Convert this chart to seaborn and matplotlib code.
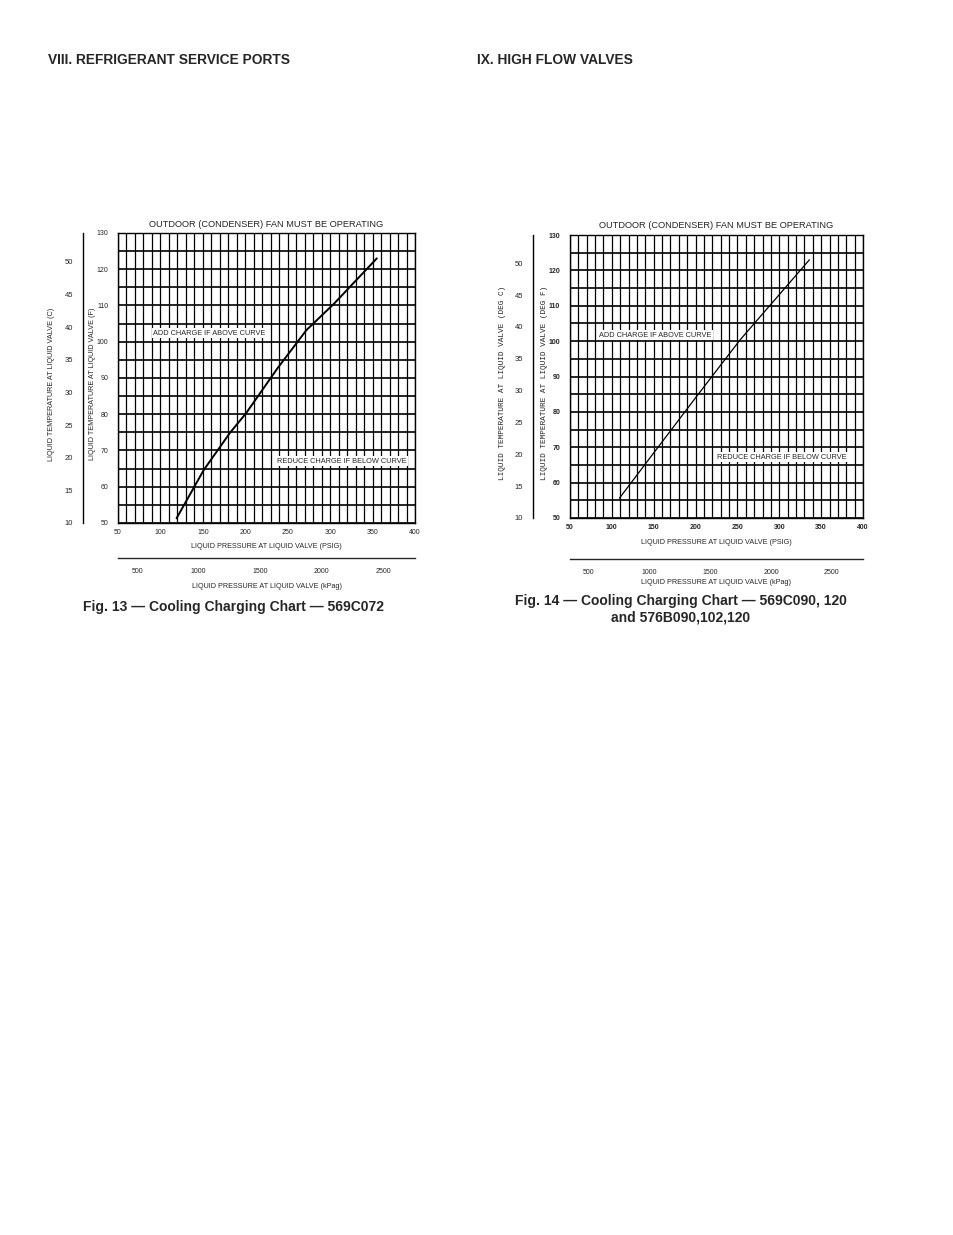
import numpy as np
import pandas as pd
import matplotlib
matplotlib.use("Agg")
import matplotlib.pyplot as plt
import seaborn as sns

# ---------------- data ----------------
left_psig = [119, 151, 182, 201, 238, 272, 305, 355]
left_temp_f = [51.3, 64.6, 74.9, 80.3, 92.7, 103.2, 110.6, 123.0]
right_psig = [109, 201, 253, 336]
right_temp_f = [55.6, 84.3, 100.3, 123.0]

psig_ticks = [50, 100, 150, 200, 250, 300, 350, 400]
temp_f_ticks = [50, 60, 70, 80, 90, 100, 110, 120, 130]
temp_c_ticks = [10, 15, 20, 25, 30, 35, 40, 45, 50]
kpa_ticks = [500, 1000, 1500, 2000, 2500]

headers = ["VIII. REFRIGERANT SERVICE PORTS", "IX. HIGH FLOW VALVES"]
top_note = "OUTDOOR (CONDENSER) FAN MUST BE OPERATING"
add_note = "ADD CHARGE IF ABOVE CURVE"
reduce_note = "REDUCE CHARGE IF BELOW CURVE"
xlabel_psig = "LIQUID PRESSURE AT LIQUID VALVE (PSIG)"
xlabel_kpa = "LIQUID PRESSURE AT LIQUID VALVE (kPag)"
captions = ["Fig. 13 \u2014 Cooling Charging Chart \u2014 569C072",
            "Fig. 14 \u2014 Cooling Charging Chart \u2014 569C090, 120\nand 576B090,102,120"]

sns.set_style("white")
plt.rcParams['font.family'] = ['Liberation Sans', 'DejaVu Sans']

W, H = 954, 1235
fig = plt.figure(figsize=(W / 100, H / 100), dpi=100)


def rect(x0, y0, x1, y1):
    return [x0 / W, 1 - y1 / H, (x1 - x0) / W, (y1 - y0) / H]


def f2c(f):
    return (f - 32) * 5 / 9


PSI2KPA = 6.89476


def make_chart(box, c_x, kpa_y, psig_lab_y, kpa_lab_y, psig, tf, add_xy, red_xy,
               c_label, f_label, c_lab_x, f_lab_x, mono, lw_curve, tick_bold):
    x0, y0, x1, y1 = box
    ax = fig.add_axes(rect(x0, y0, x1, y1))
    df = pd.DataFrame({"psig": psig, "temp": tf})
    sns.lineplot(data=df, x="psig", y="temp", ax=ax, color="black",
                 linewidth=lw_curve, sort=False, estimator=None, zorder=5)
    ax.set_xlim(50, 400)
    ax.set_ylim(50, 130)
    ax.set_xticks(psig_ticks)
    ax.set_xticks(np.arange(50, 401, 10), minor=True)
    ax.set_yticks(temp_f_ticks)
    ax.set_yticks(np.arange(50, 131, 5), minor=True)
    ax.grid(True, which="both", axis="x", color="black", linewidth=0.9)
    ax.grid(True, which="both", axis="y", color="black", linewidth=1.2)
    ax.tick_params(axis="x", which="both", length=0, labelsize=5, pad=4)
    ax.tick_params(axis="y", which="major", length=5, width=0.8, labelsize=5, pad=2, direction="out")
    ax.tick_params(axis="y", which="minor", length=0)
    if tick_bold:
        for lab in ax.get_xticklabels() + ax.get_yticklabels():
            lab.set_fontweight("bold")
    ax.set_xlabel("")
    ax.set_ylabel("")
    for s in ax.spines.values():
        s.set_color("black")
        s.set_linewidth(1.0)
    ax.text(add_xy[0], add_xy[1], add_note, fontsize=5.3, ha="left", va="center",
            bbox=dict(facecolor="white", edgecolor="none", pad=1.2), zorder=6)
    ax.text(red_xy[0], red_xy[1], reduce_note, fontsize=5.3, ha="left", va="center",
            bbox=dict(facecolor="white", edgecolor="none", pad=1.2), zorder=6)
    cx = (x0 + x1) / 2
    fig.text(cx / W, 1 - (y0 - 9) / H, top_note, fontsize=6.7, ha="center", va="center")
    fig.text(cx / W, 1 - psig_lab_y / H, xlabel_psig, fontsize=5.2, ha="center", va="center")
    fig.text(cx / W, 1 - kpa_lab_y / H, xlabel_kpa, fontsize=5.2, ha="center", va="center")

    # Celsius axis
    axc = fig.add_axes(rect(c_x, y0, c_x + 1, y1))
    axc.set_facecolor("none")
    axc.set_ylim(f2c(50), f2c(130))
    axc.set_yticks(temp_c_ticks)
    axc.set_xticks([])
    for k in ["top", "right", "bottom"]:
        axc.spines[k].set_visible(False)
    axc.spines["left"].set_linewidth(1.0)
    axc.spines["left"].set_color("black")
    axc.tick_params(axis="y", length=5, width=0.8, labelsize=5.5, pad=2, direction="out")

    # kPag axis
    axk = fig.add_axes(rect(x0, kpa_y - 1, x1, kpa_y))
    axk.set_facecolor("none")
    axk.set_xlim(50 * PSI2KPA, 400 * PSI2KPA)
    axk.set_xticks(kpa_ticks)
    axk.set_yticks([])
    for k in ["top", "right", "left"]:
        axk.spines[k].set_visible(False)
    axk.spines["bottom"].set_linewidth(1.0)
    axk.tick_params(axis="x", length=4, width=0.8, labelsize=5, pad=3, direction="out")

    fam = ['Liberation Mono', 'DejaVu Sans Mono'] if mono else ['Liberation Sans', 'DejaVu Sans']
    fs = 5.6 if mono else 5.2
    ymid = 1 - ((y0 + y1) / 2 + 6) / H
    fig.text(c_lab_x / W, ymid, c_label, rotation=90, fontsize=fs,
             ha="center", va="center", family=fam)
    fig.text(f_lab_x / W, ymid, f_label, rotation=90, fontsize=fs,
             ha="center", va="center", family=fam)
    return ax


make_chart((118, 233, 415, 523), 83, 558, 546, 586, left_psig, left_temp_f,
           (91.5, 102.4), (237, 67.1),
           "LIQUID TEMPERATURE AT LIQUID VALVE (C)",
           "LIQUID TEMPERATURE AT LIQUID VALVE (F)", 52, 93, False, 1.4, False)

make_chart((570, 235, 863, 518), 533, 559, 543, 582, right_psig, right_temp_f,
           (84.6, 101.7), (225.6, 67.2),
           "LIQUID TEMPERATURE AT LIQUID VALVE (DEG C)",
           "LIQUID TEMPERATURE AT LIQUID VALVE (DEG F)", 503, 545, True, 0.9, True)

fig.text(48 / W, 1 - 60 / H, headers[0], fontsize=9.9, fontweight="bold", ha="left", va="center")
fig.text(477 / W, 1 - 60 / H, headers[1], fontsize=9.9, fontweight="bold", ha="left", va="center")
fig.text(233 / W, 1 - 607 / H, captions[0], fontsize=10, fontweight="bold", ha="center", va="center")
fig.text(681 / W, 1 - 609 / H, captions[1], fontsize=10, fontweight="bold", ha="center", va="center",
         linespacing=1.25)

fig.savefig("out.png", dpi=100)
